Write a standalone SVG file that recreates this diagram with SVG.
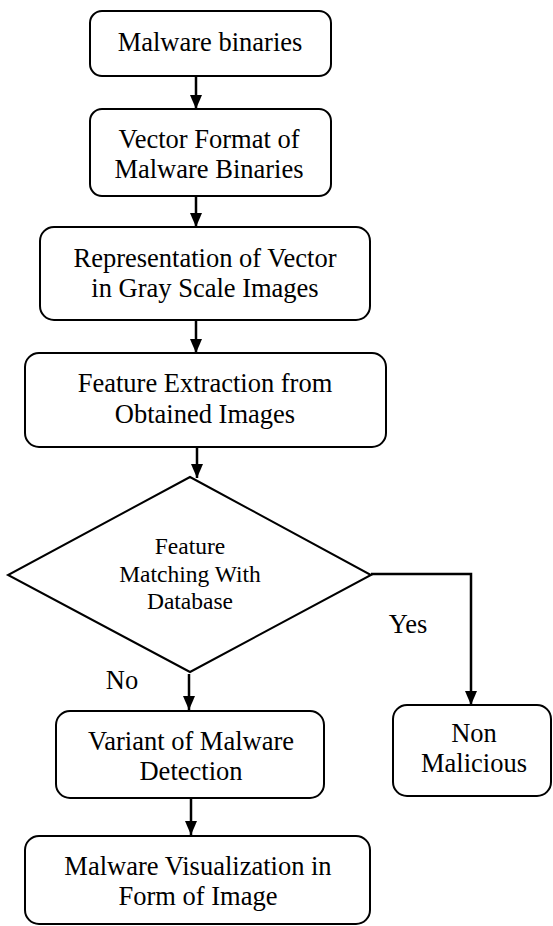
<svg xmlns="http://www.w3.org/2000/svg" width="553" height="926" viewBox="0 0 553 926">
<style>
.box{fill:#fff;stroke:#000;stroke-width:2}
.c{fill:none;stroke:#000;stroke-width:2.5}
</style>
<defs>
<marker id="ah" viewBox="0 0 14 12" refX="14" refY="6" markerWidth="14" markerHeight="12" orient="auto" markerUnits="userSpaceOnUse">
<path d="M0,0 L14,6 L0,12 z" fill="#000"/>
</marker>
</defs>
<rect width="553" height="926" fill="#fff"/>
<g id="connectors">
<line class="c" x1="196" y1="76" x2="196" y2="109" marker-end="url(#ah)"/>
<line class="c" x1="196" y1="196" x2="196" y2="227" marker-end="url(#ah)"/>
<line class="c" x1="196" y1="320" x2="196" y2="353" marker-end="url(#ah)"/>
<line class="c" x1="197" y1="447" x2="197" y2="478" marker-end="url(#ah)"/>
<polyline class="c" points="371,574 471,574 471,705" marker-end="url(#ah)"/>
<line class="c" x1="189" y1="674" x2="189" y2="710" marker-end="url(#ah)"/>
<line class="c" x1="191" y1="799" x2="191" y2="835" marker-end="url(#ah)"/>
</g>
<g font-family="Liberation Serif, Times New Roman, serif" font-size="26.5" fill="#000" text-anchor="middle">
<g id="n1">
<rect class="box" x="90" y="11" width="241" height="65" rx="12"/>
<text x="210" y="51">Malware binaries</text>
</g>
<g id="n2">
<rect class="box" x="90" y="109" width="241" height="87" rx="12"/>
<text x="209" y="148">Vector Format of</text>
<text x="209" y="178">Malware Binaries</text>
</g>
<g id="n3">
<rect class="box" x="40" y="227" width="330" height="93" rx="14"/>
<text x="205" y="267">Representation of Vector</text>
<text x="205" y="297">in Gray Scale Images</text>
</g>
<g id="n4">
<rect class="box" x="25" y="353" width="361" height="94" rx="14"/>
<text x="205" y="392">Feature Extraction from</text>
<text x="205" y="423">Obtained Images</text>
</g>
<g id="n5" font-size="23.5">
<polygon class="box" points="190,477 371,575 190,672 8,575"/>
<text x="190" y="554">Feature</text>
<text x="190" y="582">Matching With</text>
<text x="190" y="609">Database</text>
</g>
<g id="lbl-yes"><text x="408" y="633">Yes</text></g>
<g id="lbl-no"><text x="122" y="689">No</text></g>
<g id="n6">
<rect class="box" x="393" y="705" width="158" height="91" rx="14"/>
<text x="474" y="742">Non</text>
<text x="474" y="772">Malicious</text>
</g>
<g id="n7">
<rect class="box" x="56" y="711" width="268" height="87" rx="14"/>
<text x="191" y="750">Variant of Malware</text>
<text x="191" y="780">Detection</text>
</g>
<g id="n8">
<rect class="box" x="25" y="836" width="345" height="88" rx="14"/>
<text x="198" y="875">Malware Visualization in</text>
<text x="198" y="905">Form of Image</text>
</g>
</g>
</svg>
